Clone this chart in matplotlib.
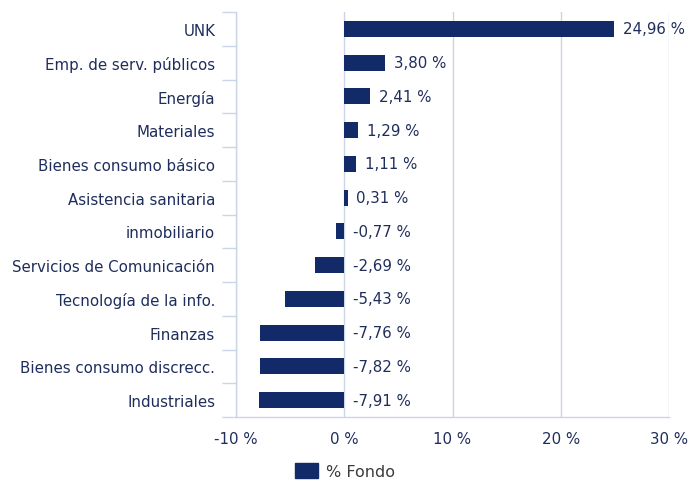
import matplotlib
matplotlib.use("Agg")
import matplotlib.pyplot as plt
from matplotlib.patches import Patch
import numpy as np

categories = ["UNK", "Emp. de serv. públicos", "Energía", "Materiales",
              "Bienes consumo básico", "Asistencia sanitaria", "inmobiliario",
              "Servicios de Comunicación", "Tecnología de la info.", "Finanzas",
              "Bienes consumo discrecc.", "Industriales"]
values = [24.96, 3.80, 2.41, 1.29, 1.11, 0.31, -0.77, -2.69, -5.43, -7.76, -7.82, -7.91]
xticks = [-10, 0, 10, 20, 30]
xticklabels = ["-10 %", "0 %", "10 %", "20 %", "30 %"]

bar_color = "#132a68"
text_color = "#1e2d5c"
grid_color = "#cad6e8"

plt.rcParams['font.family'] = ['DejaVu Sans']
fs = 10.8
fig = plt.figure(figsize=(6.9, 4.85), dpi=100)
ax = fig.add_axes([236/690, 1-418/485, (669-236)/690, (418-13)/485])

n = len(categories)
y = np.arange(n)
ax.barh(y, values, height=0.47, color=bar_color, zorder=3)
for yi, v in zip(y, values):
    ax.annotate(f"{v:.2f} %".replace(".", ","), xy=(max(v, 0), yi), xytext=(6, 0),
                textcoords="offset points", va="center", ha="left",
                fontsize=fs, color=text_color)

ax.set_ylim(n - 0.5, -0.5)
ax.set_xlim(-10, 30)
ax.set_xticks(xticks)
ax.set_xticklabels(xticklabels, fontsize=fs, color=text_color)
ax.set_yticks(y)
ax.set_yticklabels(categories, fontsize=fs, color=text_color)
ax.set_yticks(np.arange(-0.5, n, 1), minor=True)
ax.tick_params(axis='y', which='major', length=0, pad=15)
ax.tick_params(axis='y', which='minor', length=10, color=grid_color, width=1)
ax.tick_params(axis='x', length=0, pad=10)
ax.grid(axis='x', color=grid_color, linewidth=1, zorder=0)
for s in ['top', 'right']:
    ax.spines[s].set_visible(False)
for s in ['left', 'bottom']:
    ax.spines[s].set_color(grid_color)
    ax.spines[s].set_linewidth(1)

fig.legend(handles=[Patch(color=bar_color, label="% Fondo")], loc="center",
           bbox_to_anchor=(0.5, 1-472/485), frameon=False, fontsize=11.5,
           labelcolor="#3c3c3c", handlelength=1.4, handleheight=1.1, handletextpad=0.5)

fig.savefig("out.png", dpi=100)
